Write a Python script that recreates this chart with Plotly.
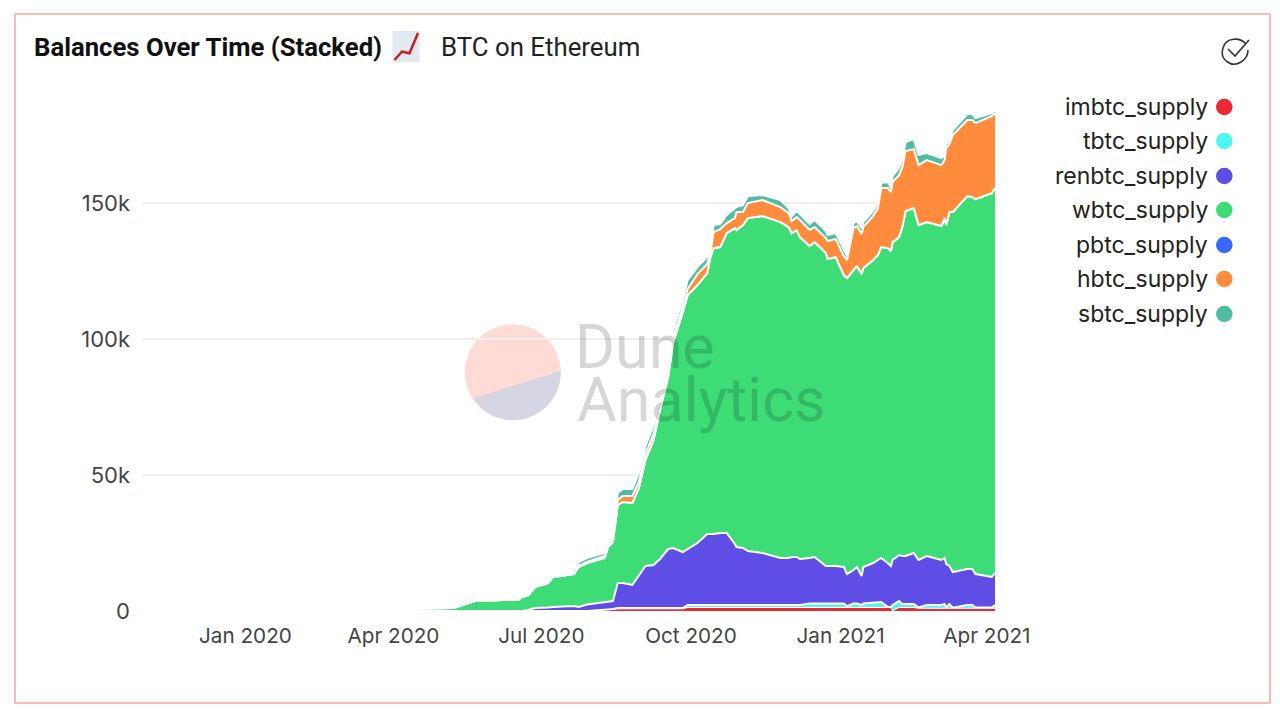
import plotly.graph_objects as go

dates = ["2020-01-01","2020-03-20","2020-05-08","2020-05-21","2020-06-17","2020-06-19","2020-06-23","2020-06-27","2020-07-05","2020-07-08",
"2020-07-21","2020-07-24","2020-07-29","2020-08-09","2020-08-11","2020-08-14","2020-08-17","2020-08-20","2020-08-26","2020-08-30",
"2020-09-03","2020-09-08","2020-09-12","2020-09-17","2020-09-20","2020-09-26","2020-09-29","2020-10-05","2020-10-11","2020-10-13",
"2020-10-15","2020-10-19","2020-10-23","2020-10-28","2020-10-29","2020-11-02","2020-11-05","2020-11-14","2020-11-25","2020-11-30",
"2020-12-02","2020-12-05","2020-12-07","2020-12-13","2020-12-16","2020-12-23","2020-12-24","2020-12-29","2021-01-03","2021-01-05",
"2021-01-09","2021-01-11","2021-01-14","2021-01-15","2021-01-21","2021-01-24","2021-01-26","2021-01-30","2021-02-01","2021-02-02",
"2021-02-06","2021-02-08","2021-02-10","2021-02-15","2021-02-18","2021-02-23","2021-03-04","2021-03-06","2021-03-07","2021-03-09",
"2021-03-11","2021-03-20","2021-03-23","2021-03-25","2021-04-04","2021-04-06"]

# Running stack levels, in thousands of BTC
imbtc_level = [0,0,0,0,0,0,0,0,0,0,0,0,0,.5,.5,.7,.8,.8,.8,.8,.8,.8,.8,.8,.8,.8,
1.3,1.3,1.3,1.3,1.3,1.3,1.3,1.3,1.3,1.3,1.3,1.3,1.3,1.3,1.3,1.3,1.3,1.3,1.3,1.3,1.3,1.3,1.3,1.3,1.3,1.3,1.3,1.3,1.3,1.3,1.3,1.3,1.3,.1,1.3,1.3,1.3,1.3,
1,1,1,1,1,1,1,1,1,1,1,1]
tbtc_level = [0,0,0,0,0,0,0,0,0,0,0,0,0,.5,.5,.7,1.1,1.1,1.1,1.1,1.1,1.1,1.1,1.1,1.1,1.1,
2.2,2.2,2.2,2.2,2.2,2.2,2.2,2.2,2.2,2.2,2.2,2.2,2.2,2.2,2.2,2.2,2.2,2.8,2.8,2.8,2.8,2.8,2.8,
1.8,2.8,2.8,2.2,2.8,3,3.3,3.3,1.5,1.5,2.2,3.7,2.6,2.6,2.6,1.3,2.2,2.2,2.6,1.3,2.6,1.2,2.2,2.2,1.3,1.3,2.2]
renbtc_level = [0,0,0,0,0,0,.37,1.1,1.29,1.47,1.84,1.47,2.39,3.31,3.31,3.68,10.29,10.29,9.56,12.87,
16.54,16.91,19.12,22.79,23.16,21.69,22.79,25,28.31,28.31,28.31,28.67,28.67,24.63,23.53,23.16,22.06,21.32,19.48,19.48,
19.85,19.85,19.12,19.48,19.85,16.54,16.54,16.54,16.17,13.6,15.07,16.17,12.87,16.17,17.64,18.75,19.48,17.64,16.54,18.75,
20.59,20.22,20.22,21.32,18.75,20.22,18.75,19.48,17.28,16.54,14.34,15.44,15.44,13.6,12.5,13.97]
wbtc_level = [.05,.6,1.1,3.68,4.23,5.15,5.88,8.82,10.29,12.5,13.6,16.17,17.64,19.48,23.53,25.36,38.97,40.07,39.7,45.21,
55.51,62.86,73.89,86.02,98.52,109.9,116.16,119.84,124.25,130.13,133.44,133.81,138.95,140.79,140.06,141.89,144.47,145.2,143,141.16,
138.95,140.06,137.48,134.17,135.64,131.6,129.4,130.13,123.51,122.41,125.35,126.82,123.88,126.09,129.03,130.87,133.81,133.44,132.34,135.64,
137.48,141.16,147.04,148.14,141.89,143,141.53,144.47,141.89,146.67,146.67,152.55,152.19,151.45,153.66,155.49]
hbtc_level = [.05,.6,1.1,3.68,4.23,5.15,5.88,8.82,10.29,12.5,13.6,16.54,18.01,20.22,24.26,26.83,40.8,42.27,42.27,47.42,
57.71,65.07,75.73,87.86,100.72,111.75,118.37,123.88,127.56,131.97,139.32,140.42,142.63,144.47,146.67,146.67,149.98,151.08,148.51,146.3,
143.36,144.83,143.73,140.06,141.16,137.11,136.01,136.75,130.5,129.03,140.79,141.53,138.59,141.16,145.2,148.14,155.49,155.49,154.02,157.7,
160.27,163.21,169.1,169.83,163.95,165.79,163.95,165.79,170.2,171.67,174.98,180.49,180.49,179.39,181.97,183.06]
sbtc_level = [.05,.6,1.1,3.68,4.23,5.15,5.88,8.82,10.29,12.5,13.97,18.01,19.48,21.32,25.36,27.94,43.38,44.85,44.85,50.73,
60.65,68.01,78.3,90.43,103.3,114.32,121.68,126.45,130.13,133.44,141.89,142.26,145.57,148.14,148.51,149.25,152.55,152.92,151.08,148.14,
145.2,147.04,145.94,142.26,143.73,139.69,138.22,138.95,132.7,130.5,142.63,143.36,140.79,143,147.04,149.98,157.33,157.7,155.49,159.91,
162.85,165.79,172.4,173.51,167.63,168.36,166.52,167.63,171.67,173.14,176.82,182.7,182.7,181.23,183.06,184.17]

series_names = ["imbtc_supply","tbtc_supply","renbtc_supply","wbtc_supply","pbtc_supply","hbtc_supply","sbtc_supply"]
series_colors = ["#ec2830","#4ff7f0","#5f4ee6","#3ddc76","#3668ff","#ff8c3c","#50bda2"]
line_widths = [1, 2, 2, 2, 2, 2, 2]
levels = [imbtc_level, tbtc_level, renbtc_level, wbtc_level, wbtc_level, hbtc_level, sbtc_level]
y_ticks = [0, 50000, 100000, 150000]
y_labels = ["0", "50k", "100k", "150k"]

W, H = 1280, 720
L, R, T, B = 143, 995, 85, 611
def px(x): return (x - L) / (R - L)
def py(y): return (B - y) / (B - T)

fig = go.Figure()
below = [0] * len(dates)
for name, color, lw, lev in zip(series_names, series_colors, line_widths, levels):
    vals = [round((a - b) * 1000, 1) for a, b in zip(lev, below)]
    fig.add_trace(go.Scatter(x=dates, y=vals, name=name, mode="lines", stackgroup="one",
                             line=dict(color="white", width=lw), fillcolor=color, hoverinfo="skip"))
    below = lev

font = "Inter"
plex = "Roboto"
ann = []
def text(x, y, s, size, color, anchor="left", family=font, bold=False):
    ann.append(dict(xref="paper", yref="paper", x=px(x), y=py(y), text=f"<b>{s}</b>" if bold else s,
                    showarrow=False, xanchor=anchor, yanchor="middle",
                    font=dict(family=family, size=size, color=color)))

text(32, 47, "Balances Over Time (Stacked)", 25.7, "#111111", family=plex, bold=True)
text(439, 47, "BTC on Ethereum", 25.8, "#222222", family=plex)
text(573, 347, "Dune", 61, "rgba(0,0,0,0.16)", family=plex)
text(575, 400, "Analytics", 61, "rgba(0,0,0,0.16)", family=plex)

def seg(path, **kw):
    return dict(type="path", xref="paper", yref="paper", path=path, **kw)

shapes = [
    dict(type="rect", xref="paper", yref="paper", x0=px(15), x1=px(1270), y0=py(14), y1=py(703),
         line=dict(color="#fbbcb6", width=2), fillcolor="rgba(0,0,0,0)", layer="below"),
    # watermark disc with a straight split
    dict(type="circle", xref="paper", yref="paper", x0=px(464.7), x1=px(560.7), y0=py(420.3), y1=py(324.3),
         line=dict(width=0), fillcolor="#fedcd5", layer="below"),
    seg(f"M {px(560.7)} {py(371)} C {px(561.3)} {py(392.4)} {px(547.5)} {py(411.7)} {px(527.1)} {py(418.1)} "
        f"C {px(506.7)} {py(424.5)} {px(485.1)} {py(416.2)} {px(473.3)} {py(398.3)} Z",
        line=dict(width=0), fillcolor="#d6d5e4", layer="below"),
    # emoji tile
    dict(type="rect", xref="paper", yref="paper", x0=px(392.5), x1=px(419.5), y0=py(31), y1=py(62),
         line=dict(width=0), fillcolor="#e3e9f2"),
    seg(f"M {px(394.4)} {py(60)} L {px(402)} {py(51.7)} L {px(409.5)} {py(53.3)} L {px(418)} {py(33)}",
        line=dict(color="#c8201f", width=2.5)),
    # check icon
    seg(f"M {px(1246)} {py(44)} C {px(1240)} {py(37)} {px(1226)} {py(37)} {px(1223)} {py(48)} "
        f"C {px(1219)} {py(60)} {px(1232)} {py(68)} {px(1241)} {py(62)} "
        f"C {px(1246)} {py(59)} {px(1248)} {py(55)} {px(1248)} {py(50)}",
        line=dict(color="#333333", width=1.6)),
    seg(f"M {px(1228)} {py(49)} L {px(1235)} {py(56)} L {px(1249)} {py(40)}",
        line=dict(color="#333333", width=1.6)),
]

legend_y = [107, 141, 176, 210, 245, 279, 314]
for name, color, y in zip(series_names, series_colors, legend_y):
    text(1210, y, name, 23, "#222222", anchor="right")
    shapes.append(dict(type="circle", xref="paper", yref="paper", x0=px(1216), x1=px(1232.6),
                       y0=py(y + 8.3), y1=py(y - 8.3), line=dict(width=0), fillcolor=color))

fig.update_layout(
    width=W, height=H, margin=dict(l=L, r=W - R, t=T, b=H - B, pad=0),
    plot_bgcolor="white", paper_bgcolor="white", showlegend=False, hovermode=False,
    font=dict(family=font, color="#444444"), annotations=ann, shapes=shapes,
    xaxis=dict(type="date", range=["2019-10-30", "2021-04-06"], tick0="2020-01-01", dtick="M3",
               tickformat="%b %Y", showgrid=False, zeroline=False, showline=False, ticks="",
               tickfont=dict(family=font, size=20.7, color="#444444"), ticklabelstandoff=10),
    yaxis=dict(range=[0, 193.4e3], tickvals=y_ticks, ticktext=y_labels, showgrid=True, gridcolor="#f0f0f0",
               gridwidth=1.5, zeroline=False, showline=False, ticks="",
               tickfont=dict(family=font, size=22, color="#444444"), ticklabelstandoff=12),
)
fig.write_html("out.html", post_script="document.body.style.margin='0';", config=dict(displayModeBar=False))
